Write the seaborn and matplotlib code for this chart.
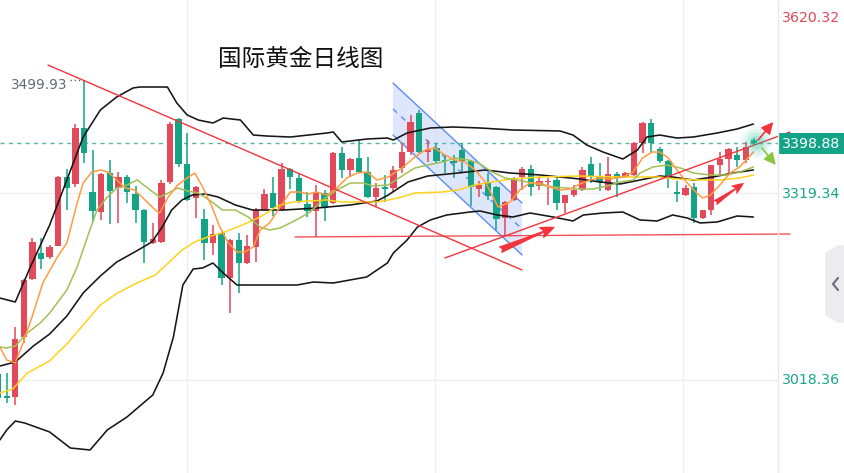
import numpy as np
import pandas as pd
import matplotlib
matplotlib.use("Agg")
import matplotlib.pyplot as plt
import seaborn as sns
from matplotlib.patches import Polygon, FancyArrowPatch, Rectangle
from matplotlib.lines import Line2D

# ---------------- data ----------------
opens = [3028.0, 2992.7, 2991.1, 3087.4, 3180.5, 3222.3, 3215.9, 3233.5, 3344.3, 3333.1,
         3423.0, 3320.2, 3288.1, 3350.7, 3326.6, 3344.3, 3317.0, 3291.3, 3238.3, 3240.0,
         3336.3, 3437.4, 3365.2, 3310.6, 3276.9, 3238.3, 3254.4, 3182.1, 3243.2, 3206.2,
         3231.9, 3291.3, 3318.6, 3291.3, 3357.2, 3342.7, 3301.0, 3289.7, 3318.6, 3302.6,
         3382.8, 3355.6, 3374.8, 3352.3, 3312.2, 3328.3, 3326.6, 3358.8, 3384.4, 3447.1,
         3384.4, 3390.9, 3371.6, 3370.0, 3387.7, 3370.0, 3325.0, 3334.7, 3328.3, 3278.5,
         3307.4, 3344.3, 3357.2, 3329.9, 3336.3, 3339.5, 3302.6, 3315.4, 3323.4, 3365.2,
         3344.3, 3323.4, 3349.1, 3344.3, 3347.5, 3398.9, 3431.0, 3389.3, 3370.0, 3320.2,
         3315.4, 3328.3, 3278.5, 3291.3, 3363.6, 3373.2, 3379.6, 3371.6, 3404.0]
closes = [2989.5, 2988.7, 3084.2, 3178.9, 3240.0, 3212.6, 3231.9, 3344.3, 3326.6, 3423.0,
          3382.8, 3289.7, 3349.1, 3321.8, 3344.3, 3320.2, 3291.3, 3240.0, 3244.8, 3334.7,
          3429.4, 3365.2, 3307.4, 3328.3, 3238.3, 3252.8, 3182.1, 3243.2, 3206.2, 3233.5,
          3291.3, 3317.0, 3294.5, 3357.2, 3344.3, 3304.2, 3289.7, 3318.6, 3294.5, 3382.8,
          3355.6, 3373.2, 3352.3, 3312.2, 3326.6, 3325.0, 3355.6, 3384.4, 3432.6, 3384.4,
          3387.7, 3370.0, 3369.2, 3366.8, 3370.0, 3328.3, 3331.5, 3313.8, 3276.9, 3304.2,
          3342.7, 3357.2, 3328.3, 3337.9, 3337.9, 3302.6, 3315.4, 3323.4, 3355.6, 3344.3,
          3336.3, 3349.1, 3342.7, 3350.7, 3398.9, 3431.0, 3398.9, 3370.0, 3342.7, 3317.0,
          3326.6, 3278.5, 3291.3, 3363.6, 3373.2, 3389.3, 3371.6, 3392.5, 3398.88]
highs = [3031.2, 3029.6, 3103.5, 3180.5, 3246.4, 3246.4, 3235.1, 3345.9, 3357.2, 3429.4,
         3499.93, 3387.7, 3350.0, 3371.6, 3352.3, 3347.5, 3329.9, 3292.9, 3270.5, 3339.5,
         3432.6, 3439.0, 3415.0, 3329.9, 3292.9, 3267.2, 3256.0, 3244.8, 3254.4, 3251.2,
         3294.5, 3325.0, 3344.3, 3366.8, 3358.8, 3350.7, 3320.2, 3331.5, 3323.4, 3384.4,
         3392.5, 3374.8, 3403.7, 3376.4, 3334.7, 3347.5, 3362.0, 3398.9, 3443.9, 3451.9,
         3403.7, 3398.9, 3379.6, 3379.6, 3398.9, 3371.6, 3337.9, 3350.7, 3329.9, 3305.8,
         3344.3, 3360.4, 3363.6, 3344.3, 3342.7, 3344.3, 3316.0, 3331.5, 3360.4, 3376.4,
         3366.8, 3376.4, 3352.3, 3352.3, 3400.5, 3432.6, 3437.4, 3392.5, 3371.0, 3337.9,
         3331.5, 3334.7, 3292.0, 3364.0, 3384.4, 3390.9, 3392.5, 3400.5, 3407.0]
lows = [2986.3, 2981.4, 2978.2, 3077.8, 3178.9, 3196.6, 3212.6, 3233.5, 3291.3, 3328.3,
        3366.8, 3272.1, 3275.3, 3268.9, 3270.5, 3302.6, 3270.5, 3206.2, 3236.7, 3238.0,
        3333.1, 3360.4, 3305.8, 3278.5, 3211.0, 3219.1, 3170.9, 3125.9, 3158.1, 3205.0,
        3207.8, 3290.0, 3281.7, 3290.0, 3325.0, 3302.6, 3280.1, 3248.0, 3273.7, 3301.0,
        3342.7, 3344.3, 3350.7, 3310.6, 3296.1, 3304.2, 3320.2, 3350.7, 3379.6, 3383.0,
        3368.4, 3366.8, 3350.7, 3342.7, 3352.3, 3297.7, 3312.2, 3307.4, 3259.2, 3249.6,
        3305.8, 3323.4, 3313.8, 3323.4, 3299.4, 3291.3, 3286.5, 3312.2, 3322.0, 3334.7,
        3321.8, 3322.0, 3312.2, 3342.7, 3346.0, 3382.8, 3382.8, 3366.8, 3326.6, 3304.2,
        3313.8, 3270.5, 3276.9, 3283.3, 3347.5, 3347.5, 3360.4, 3366.8, 3396.0]

ma5_x = [0.2, 1.0, 2.0, 2.9, 4.1, 5.2, 6.9, 8.0, 9.2, 9.9, 10.9, 11.9, 12.8, 13.8, 14.8, 15.9,
         17.1, 18.3, 18.8, 19.8, 20.9, 22.0, 22.9, 23.8, 24.9, 25.8, 26.8, 27.8, 28.7, 29.7,
         30.5, 31.6, 32.8, 34.0, 35.1, 36.1, 37.1, 38.3, 39.4, 40.6, 41.8, 42.9, 44.1, 45.4,
         47.0, 48.5, 49.7, 50.8, 52.0, 53.2, 54.3, 55.5, 56.7, 57.6, 58.2, 59.6, 60.7, 61.9,
         63.1, 64.2, 65.4, 66.6, 67.7, 68.9, 70.0, 71.2, 72.7, 73.9, 75.0, 76.1, 77.0, 78.0,
         79.0, 80.2, 81.3, 82.0, 82.9, 84.0, 85.2, 86.3, 87.9]
ma5_y = [3071.4, 3050.5, 3045.7, 3077.8, 3125.9, 3174.1, 3215.9, 3238.3, 3302.6, 3334.7,
         3352.3, 3355.6, 3352.3, 3339.5, 3326.6, 3323.4, 3307.4, 3291.3, 3286.5, 3312.2,
         3331.5, 3342.7, 3350.7, 3328.3, 3296.1, 3264.0, 3238.3, 3223.9, 3223.9, 3231.9,
         3259.2, 3270.5, 3296.1, 3320.2, 3320.2, 3317.0, 3320.2, 3315.4, 3326.6, 3342.7,
         3350.7, 3352.3, 3339.5, 3344.3, 3358.8, 3376.4, 3387.7, 3390.9, 3379.6, 3371.6,
         3368.4, 3355.6, 3336.3, 3312.2, 3296.1, 3304.2, 3323.4, 3334.7, 3334.7, 3328.3,
         3323.4, 3325.0, 3333.1, 3339.5, 3342.7, 3341.1, 3344.3, 3352.3, 3374.8, 3384.4,
         3384.4, 3374.8, 3355.6, 3334.7, 3318.6, 3310.6, 3315.4, 3331.5, 3350.7, 3360.4,
         3384.4]

ma10_x = [0.2, 1.0, 2.0, 3.4, 4.9, 6.0, 8.0, 9.2, 10.4, 11.5, 12.7, 13.8, 15.0, 16.2, 17.4,
          18.8, 19.8, 20.9, 22.1, 23.3, 24.9, 26.1, 27.6, 29.1, 30.5, 31.6, 32.8, 34.0, 35.1,
          36.3, 37.8, 39.4, 41.0, 42.5, 43.6, 45.4, 47.0, 48.5, 50.0, 51.7, 53.2, 54.7, 55.9,
          57.5, 59.0, 61.6, 63.1, 64.6, 66.2, 67.7, 69.2, 70.9, 72.4, 73.9, 74.7, 76.2, 77.8,
          79.4, 80.9, 82.9, 84.8, 86.3, 87.9]
ma10_y = [3071.4, 3069.8, 3073.0, 3093.8, 3109.9, 3125.9, 3162.9, 3199.8, 3248.0, 3291.3,
          3312.2, 3326.6, 3331.5, 3339.5, 3326.6, 3312.2, 3318.6, 3326.6, 3321.8, 3318.6,
          3304.2, 3291.3, 3291.3, 3280.1, 3264.0, 3259.2, 3262.4, 3270.5, 3278.5, 3288.1,
          3307.4, 3323.4, 3334.7, 3334.7, 3329.9, 3331.5, 3345.9, 3358.8, 3363.6, 3368.4,
          3374.8, 3371.6, 3366.8, 3352.3, 3342.7, 3336.3, 3331.5, 3328.3, 3326.6, 3325.0,
          3325.0, 3329.9, 3336.3, 3339.5, 3350.7, 3360.4, 3363.6, 3358.8, 3350.7, 3347.5,
          3347.5, 3352.3, 3360.4]

ma30_x = [0.2, 1.7, 3.4, 6.0, 8.0, 9.9, 11.9, 13.8, 15.9, 18.3, 19.8, 21.4, 22.9, 24.4, 26.4,
          28.4, 30.5, 32.5, 34.3, 36.3, 38.3, 40.1, 42.1, 44.1, 45.4, 47.0, 48.5, 51.7, 53.5,
          55.5, 57.5, 59.6, 63.1, 67.7, 72.4, 77.0, 79.0, 81.7, 84.0, 86.3, 87.9]
ma30_y = [2997.5, 3003.9, 3029.6, 3048.9, 3076.2, 3106.7, 3138.8, 3157.3, 3172.5, 3187.0,
          3206.2, 3227.1, 3240.0, 3248.0, 3256.0, 3267.2, 3280.1, 3297.7, 3304.2, 3305.8,
          3307.4, 3304.2, 3304.2, 3304.2, 3307.4, 3312.2, 3318.6, 3320.2, 3323.4, 3331.5,
          3336.3, 3341.1, 3344.3, 3345.9, 3344.3, 3344.3, 3341.1, 3339.5, 3339.5, 3342.7,
          3347.5]

boll_mid_x = [0.2, 2.0, 4.1, 6.0, 8.0, 9.9, 11.9, 13.8, 15.9, 17.9, 19.1, 20.2, 21.4, 22.6,
              24.1, 25.6, 27.6, 29.6, 33.2, 37.1, 41.0, 44.1, 45.4, 47.7, 50.0, 53.5, 56.7,
              59.6, 63.1, 65.4, 67.7, 70.0, 72.4, 74.7, 77.0, 78.5, 80.9, 83.2, 85.5, 87.9]
boll_mid_y = [3040.8, 3047.3, 3072.9, 3092.2, 3121.1, 3158.1, 3185.4, 3207.8, 3223.9, 3240.0,
              3264.0, 3291.3, 3307.4, 3315.4, 3317.0, 3312.2, 3299.4, 3291.3, 3291.3, 3294.5,
              3299.4, 3305.8, 3315.4, 3336.3, 3345.9, 3350.7, 3355.6, 3350.7, 3347.5, 3344.3,
              3341.1, 3336.3, 3333.1, 3339.5, 3345.9, 3344.3, 3339.5, 3344.3, 3350.7, 3355.6]

boll_up_x = [0.2, 2.0, 3.7, 6.0, 8.0, 9.9, 11.9, 13.8, 15.7, 16.5, 19.7, 20.8, 22.0, 23.3,
             25.0, 26.2, 28.2, 29.7, 31.3, 34.0, 38.3, 39.0, 40.0, 42.9, 45.3, 46.0, 47.6,
             50.3, 52.9, 56.1, 59.9, 65.4, 66.9, 68.5, 70.4, 72.7, 74.4, 75.5, 77.0, 79.0,
             80.9, 83.7, 86.0, 87.9]
boll_up_y = [3150.0, 3143.6, 3198.2, 3267.2, 3339.5, 3408.5, 3451.9, 3472.8, 3487.2, 3488.8,
             3488.8, 3463.1, 3443.9, 3435.8, 3431.0, 3439.0, 3435.8, 3411.7, 3410.1, 3408.5,
             3415.0, 3416.6, 3400.5, 3405.3, 3406.9, 3403.7, 3415.0, 3423.0, 3424.6, 3423.0,
             3419.8, 3418.2, 3411.7, 3395.7, 3384.4, 3373.2, 3387.7, 3408.5, 3411.7, 3406.9,
             3408.5, 3415.0, 3421.4, 3429.4]

boll_low_x = [0.2, 1.0, 2.0, 3.1, 6.0, 8.4, 10.7, 12.7, 15.0, 16.9, 18.0, 19.2, 20.4, 21.5,
              22.7, 23.8, 25.0, 26.2, 27.8, 31.3, 34.8, 36.7, 39.0, 42.9, 45.3, 46.0, 47.6,
              48.8, 50.3, 52.2, 54.9, 56.1, 58.1, 59.9, 61.9, 64.6, 66.9, 68.1, 70.4, 72.7,
              74.7, 76.7, 78.5, 80.2, 81.7, 83.7, 86.0, 87.9]
boll_low_y = [2922.0, 2938.1, 2952.5, 2949.3, 2934.9, 2909.2, 2906.0, 2938.1, 2959.0, 2981.4,
              2994.3, 3029.6, 3087.4, 3170.9, 3196.6, 3198.2, 3206.2, 3190.2, 3170.9, 3170.9,
              3170.9, 3175.7, 3174.1, 3183.8, 3206.2, 3222.3, 3243.2, 3264.0, 3275.3, 3283.3,
              3288.1, 3289.7, 3283.3, 3280.1, 3286.5, 3280.1, 3273.7, 3283.3, 3286.5, 3288.1,
              3275.3, 3273.7, 3283.3, 3278.5, 3270.5, 3272.1, 3281.7, 3280.1]

axis_labels = ["3620.32", "3398.88", "3319.34", "3018.36"]
grid_prices = [3319.34, 3018.36]
last_price = 3398.88
peak_label = "3499.93"
title = "国际黄金日线图"

# ---------------- style ----------------
sns.set_theme(style="white")
plt.rcParams["font.family"] = ["Noto Sans CJK SC", "DejaVu Sans"]

RED = "#e2495a"
GREEN = "#15a386"
ORANGE = "#ff9c40"
OLIVE = "#a2bf55"
YELLOW = "#ffd21c"
BLACK = "#161616"
LINE_RED = "#f2333d"
BLUE = "#5a8ef2"

W, H = 844, 473
fig = plt.figure(figsize=(W / 100, H / 100), dpi=100)
fig.patch.set_facecolor("white")
PLOT_W = 778
ax = fig.add_axes([0, 0, PLOT_W / W, 1])

# pixel scale of the original chart: candle i at x = -1.9 + 8.593*i, price = 3628.5 - 1.6056*y
SP, X0 = 8.593, -1.9
XLIM = ((0 - X0) / SP, (PLOT_W - X0) / SP)
YLIM = (3628.5 - 1.6056 * H, 3628.5)


def fx(x):
    return x / W


def fy(y):
    return 1 - y / H


# grid
for gp in grid_prices:
    ax.axhline(gp, color="#efefef", lw=1.0, zorder=0)
for px in (187, 435, 683):
    ax.axvline((px - X0) / SP, color="#f0f0f0", lw=1.0, zorder=0)

# blue channel (drawing)
chan = Polygon([(45.96, 3495.2), (60.97, 3302.6), (60.97, 3219.1), (45.96, 3411.7)],
               closed=True, facecolor="#d3defa", edgecolor="none", alpha=0.75, zorder=1)
ax.add_patch(chan)
ax.plot([45.96, 60.97], [3495.2, 3302.6], color=BLUE, lw=1.0, zorder=2)
ax.plot([45.96, 60.97], [3411.7, 3219.1], color=BLUE, lw=1.0, zorder=2)
ax.plot([45.96, 60.97], [3453.5, 3260.8], color=BLUE, lw=1.0, ls=(0, (4, 4)), zorder=2)

# candles
idx = np.arange(len(opens))
o = np.array(opens)
c = np.array(closes)
up = c >= o
cols = np.where(up, RED, GREEN)
ax.vlines(idx, lows, highs, colors=cols, linewidth=1.1, zorder=3)
body_bottom = np.minimum(o, c)
body_h = np.maximum(np.abs(c - o), 1.4)
ax.bar(idx, body_h, bottom=body_bottom, width=0.74, color=cols, linewidth=0, zorder=4)

# moving averages and bollinger bands via seaborn
lines = [
    (boll_up_x, boll_up_y, BLACK, 1.15),
    (boll_low_x, boll_low_y, BLACK, 1.15),
    (boll_mid_x, boll_mid_y, BLACK, 1.15),
    (ma30_x, ma30_y, YELLOW, 1.1),
    (ma10_x, ma10_y, OLIVE, 1.1),
    (ma5_x, ma5_y, ORANGE, 1.1),
]
for xs, ys, col, lw in lines:
    df = pd.DataFrame({"x": xs, "y": ys})
    sns.lineplot(data=df, x="x", y="y", ax=ax, color=col, linewidth=lw,
                 estimator=None, sort=False, zorder=5)
ax.set_axis_off()
ax.set_xlim(*XLIM)
ax.set_ylim(*YLIM)

# trend lines
ax.plot([5.81, 60.97], [3524.1, 3195.0], color=LINE_RED, lw=1.0, zorder=6)
ax.plot([34.55, 92.16], [3248.0, 3252.8], color=LINE_RED, lw=1.0, alpha=0.85,
        zorder=6, clip_on=False)
ax.plot([52.0, 92.16], [3214.3, 3416.6], color=LINE_RED, lw=1.0, zorder=6, clip_on=False)

# last price dashed line
ax.axhline(last_price, color="#58b8a2", lw=1.0, ls=(0, (3, 3)), zorder=2)

# glow on last candle
for s, a in [(560, 0.06), (360, 0.09), (210, 0.13), (100, 0.2)]:
    ax.scatter([88.2], [3401.0], s=s, color="#2fbf9f", alpha=a, linewidths=0, zorder=7)

# thick red arrows
for (p0, p1, ms) in [((58.4, 3227.1), (64.8, 3264.0), 16),
                     ((83.43, 3302.6), (86.8, 3334.7), 13)]:
    arr = FancyArrowPatch(p0, p1, arrowstyle="fancy,head_length=0.7,head_width=0.55,tail_width=0.32",
                          mutation_scale=ms, color=LINE_RED, lw=0, zorder=8,
                          shrinkA=0, shrinkB=0)
    ax.add_patch(arr)
# small arrows near last candle
ax.add_patch(FancyArrowPatch((88.45, 3403.7), (90.2, 3432.6), arrowstyle="-|>,head_length=0.7,head_width=0.35",
                             mutation_scale=10, color=LINE_RED, lw=1.2, zorder=8,
                             shrinkA=0, shrinkB=0, clip_on=False))
ax.add_patch(FancyArrowPatch((88.9, 3390.9), (90.5, 3363.6), arrowstyle="-|>,head_length=0.7,head_width=0.35",
                             mutation_scale=10, color="#8cc63f", lw=1.2, zorder=8,
                             shrinkA=0, shrinkB=0, clip_on=False))

# peak label
ax.plot([(70 - X0) / SP, (82 - X0) / SP], [highs[10], highs[10]], color="#666a75",
        lw=1.0, ls=(0, (1, 2)), zorder=6)
fig.text(fx(67), fy(85), peak_label, ha="right", va="center", fontsize=9.8,
         color="#666a75", family=["DejaVu Sans"])

# title
fig.text(fx(218), fy(59), title, ha="left", va="center", fontsize=17, color="#111111")

# right axis area
fig.add_artist(Line2D([fx(778), fx(778)], [0, 1], color="#e8e8e8", lw=1.0))
lab_font = dict(fontsize=10.2, va="center", ha="left", family=["DejaVu Sans"])
fig.text(fx(782), fy(18), axis_labels[0], color="#e0475a", **lab_font)
fig.add_artist(Rectangle((fx(779), fy(154)), fx(844) - fx(779), fy(133) - fy(154),
                         transform=fig.transFigure, facecolor="#13a487", edgecolor="none"))
fig.text(fx(782), fy(143.5), axis_labels[1], color="white", **lab_font)
fig.text(fx(782), fy(194), axis_labels[2], color="#17a589", **lab_font)
fig.text(fx(782), fy(380), axis_labels[3], color="#17a589", **lab_font)

# side tab
tab = Polygon([(fx(844), fy(245)), (fx(838), fy(245)), (fx(825), fy(253)),
               (fx(825), fy(315)), (fx(838), fy(323)), (fx(844), fy(323))],
              closed=True, transform=fig.transFigure, facecolor="#ebebf0", edgecolor="none")
fig.add_artist(tab)
fig.add_artist(Line2D([fx(838), fx(833), fx(838)], [fy(278), fy(284), fy(290)],
                      color="#6f7380", lw=1.6))

fig.savefig("out.png", dpi=100, facecolor="white")
